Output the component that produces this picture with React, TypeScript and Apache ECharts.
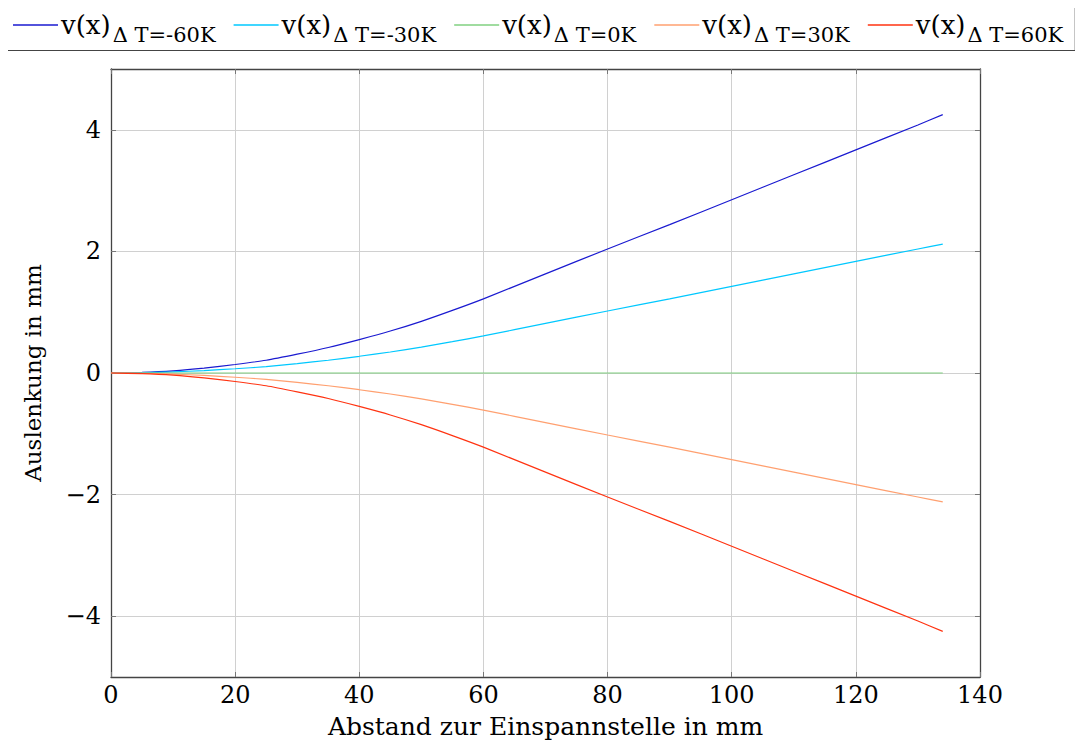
import React, { useEffect, useRef } from "react";
import * as echarts from "echarts";

const xValues = [0, 5, 10, 15, 20, 25, 30, 35, 40, 45, 50, 55, 60, 70, 80, 90, 100, 110, 120, 130, 134];
const vMinus60 = [0, 0.01, 0.035, 0.08, 0.14, 0.21, 0.31, 0.42, 0.55, 0.69, 0.85, 1.03, 1.22, 1.63, 2.04, 2.44, 2.85, 3.26, 3.67, 4.08, 4.25];
const vMinus30 = [0, 0.005, 0.018, 0.04, 0.07, 0.105, 0.155, 0.21, 0.275, 0.345, 0.425, 0.515, 0.61, 0.815, 1.02, 1.22, 1.425, 1.63, 1.835, 2.04, 2.12];
const vZero = [0, 0, 0, 0, 0, 0, 0, 0, 0, 0, 0, 0, 0, 0, 0, 0, 0, 0, 0, 0, 0];
const vPlus30 = [0, -0.005, -0.018, -0.04, -0.07, -0.105, -0.155, -0.21, -0.275, -0.345, -0.425, -0.515, -0.61, -0.815, -1.02, -1.22, -1.425, -1.63, -1.835, -2.04, -2.12];
const vPlus60 = [0, -0.01, -0.035, -0.08, -0.14, -0.21, -0.31, -0.42, -0.55, -0.69, -0.85, -1.03, -1.22, -1.63, -2.04, -2.44, -2.85, -3.26, -3.67, -4.08, -4.25];

const subscripts = ["Δ T=-60K", "Δ T=-30K", "Δ T=0K", "Δ T=30K", "Δ T=60K"];
const seriesValues = [vMinus60, vMinus30, vZero, vPlus30, vPlus60];
const colors = ["#1a1ad0", "#00c8ff", "#80d080", "#ffa070", "#ff3311"];

const xTicks = { min: 0, max: 140, interval: 20 };
const yRange = { min: -5, max: 5 };
const yTickValues = [-4, -2, 0, 2, 4];

const FONT = "DejaVu Serif";

export default function App() {
  const ref = useRef<HTMLDivElement>(null);
  useEffect(() => {
    if (!ref.current) return;
    const chart = echarts.init(ref.current, null, { renderer: "svg" });
    const names = subscripts.map((s) => "v(x)" + s);
    const fmtY = (v: number) => (v < 0 ? "\u2212" + Math.abs(v) : String(v));
    const axisLineStyle = { color: "#444", width: 1.3 };
    const tickStyle = { color: "#777", width: 1 };
    chart.setOption({
      animation: false,
      textStyle: { fontFamily: FONT },
      legend: {
        left: 5,
        top: 4,
        padding: [8, 12, 5, 8],
        borderColor: "#444",
        borderWidth: 1.2,
        borderRadius: 0,
        itemGap: 18,
        itemWidth: 45,
        itemHeight: 1.3,
        icon: "rect",
        data: names,
        formatter: (name: string) => "{a|v(x)}{b|" + name.slice(4) + "}",
        textStyle: {
          fontFamily: FONT,
          padding: [0, 0, 0, -2],
          rich: {
            a: { fontSize: 26, fontFamily: FONT, color: "#000" },
            b: { fontSize: 21, fontFamily: FONT, color: "#000", padding: [20, 0, 0, 2] },
          },
        },
      },
      grid: { left: 111, right: 103, top: 69, bottom: 79 },
      xAxis: [
        {
          type: "value",
          min: xTicks.min,
          max: xTicks.max,
          interval: xTicks.interval,
          name: "Abstand zur Einspannstelle in mm",
          nameLocation: "middle",
          nameGap: 37,
          nameTextStyle: { fontSize: 25, color: "#000", fontFamily: FONT },
          axisLine: { onZero: false, lineStyle: axisLineStyle },
          axisTick: { inside: true, length: 5, lineStyle: tickStyle },
          axisLabel: { fontSize: 24, color: "#000", margin: 6, fontFamily: FONT },
          splitLine: { show: true, lineStyle: { color: "#d0d0d0" } },
        },
        {
          type: "value",
          position: "top",
          min: xTicks.min,
          max: xTicks.max,
          interval: xTicks.interval,
          axisLine: { onZero: false, lineStyle: axisLineStyle },
          axisTick: { inside: true, length: 5, lineStyle: tickStyle },
          axisLabel: { show: false },
          splitLine: { show: false },
        },
      ],
      yAxis: [
        {
          type: "value",
          min: yRange.min,
          max: yRange.max,
          name: "Auslenkung in mm",
          nameLocation: "middle",
          nameGap: 67,
          nameTextStyle: { fontSize: 23, color: "#000", fontFamily: FONT },
          axisLine: { show: true, onZero: false, lineStyle: axisLineStyle },
          axisTick: { show: true, inside: true, length: 5, lineStyle: tickStyle, customValues: yTickValues },
          axisLabel: { fontSize: 24, color: "#000", margin: 10, formatter: fmtY, fontFamily: FONT, customValues: yTickValues },
          splitLine: { show: true, lineStyle: { color: "#d0d0d0" } },
        },
        {
          type: "value",
          position: "right",
          min: yRange.min,
          max: yRange.max,
          axisLine: { show: true, onZero: false, lineStyle: axisLineStyle },
          axisTick: { show: true, inside: true, length: 5, lineStyle: tickStyle, customValues: yTickValues },
          axisLabel: { show: false },
          splitLine: { show: false },
        },
      ],
      series: seriesValues.map((vals, i) => ({
        name: names[i],
        type: "line",
        data: xValues.map((x, j) => [x, vals[j]]),
        symbol: "none",
        smooth: 0.2,
        color: colors[i],
        lineStyle: { width: 1.2, color: colors[i] },
        z: 3 + i,
      })),
    });
    return () => chart.dispose();
  }, []);
  return <div ref={ref} style={{ width: 1083, height: 756, margin: -8 }} />;
}
